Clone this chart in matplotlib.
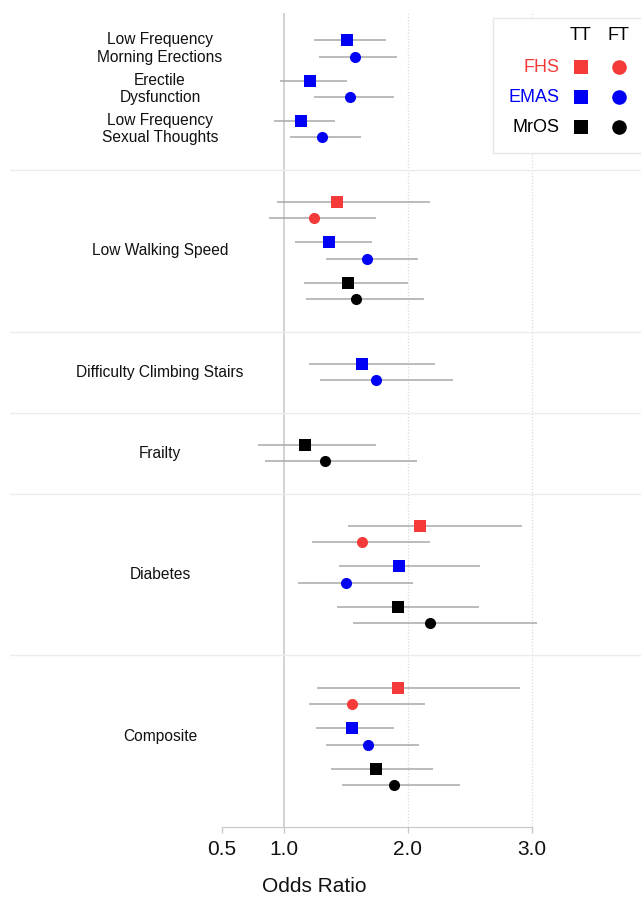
import numpy as np
import matplotlib
matplotlib.use('Agg')
import matplotlib.pyplot as plt
from matplotlib.patches import Rectangle

plt.rcParams['font.family'] = ['Liberation Sans', 'DejaVu Sans']

# ---- data -------------------------------------------------------------------
# one entry per pair of rows (TT row, then FT row)
pair_domain = ['Sexual', 'Sexual', 'Sexual',
               'Walking', 'Walking', 'Walking',
               'Stairs', 'Frailty',
               'Diabetes', 'Diabetes', 'Diabetes',
               'Composite', 'Composite', 'Composite']
pair_outcome = ['Low Frequency\nMorning Erections', 'Erectile\nDysfunction',
                'Low Frequency\nSexual Thoughts',
                'Low Walking Speed', 'Low Walking Speed', 'Low Walking Speed',
                'Difficulty Climbing Stairs', 'Frailty',
                'Diabetes', 'Diabetes', 'Diabetes',
                'Composite', 'Composite', 'Composite']
pair_cohort = ['EMAS', 'EMAS', 'EMAS',
               'FHS', 'EMAS', 'MrOS',
               'EMAS', 'MrOS',
               'FHS', 'EMAS', 'MrOS',
               'FHS', 'EMAS', 'MrOS']

# rows: TT, FT alternating
odds_ratio = [1.51, 1.57, 1.21, 1.53, 1.14, 1.31,
              1.43, 1.24, 1.36, 1.67, 1.52, 1.58,
              1.63, 1.74,
              1.17, 1.33,
              2.10, 1.63, 1.93, 1.50, 1.92, 2.18,
              1.92, 1.55, 1.55, 1.68, 1.74, 1.89]
ci_low = [1.24, 1.28, 0.97, 1.24, 0.92, 1.05,
          0.94, 0.88, 1.09, 1.34, 1.16, 1.18,
          1.20, 1.29,
          0.79, 0.85,
          1.52, 1.23, 1.44, 1.11, 1.43, 1.56,
          1.27, 1.20, 1.26, 1.34, 1.38, 1.47]
ci_high = [1.82, 1.91, 1.51, 1.89, 1.41, 1.62,
           2.18, 1.74, 1.71, 2.08, 2.00, 2.13,
           2.22, 2.36,
           1.74, 2.07,
           2.92, 2.18, 2.58, 2.04, 2.57, 3.04,
           2.90, 2.14, 1.89, 2.09, 2.20, 2.42]

cohorts = ['FHS', 'EMAS', 'MrOS']
cohort_colors = {'FHS': '#f53a3a', 'EMAS': '#0000f5', 'MrOS': '#000000'}
measures = ['TT', 'FT']
measure_marker = {'TT': 's', 'FT': 'o'}

x_ticks = [0.5, 1.0, 2.0, 3.0]
x_tick_labels = ['0.5', '1.0', '2.0', '3.0']

# ---- layout (vertical positions, top-down) -----------------------------------
stepIn = 16.3      # TT -> FT
stepPair = 24.05   # FT -> next TT
pad = 32.4         # row -> separator
rowY = []
separators = []
y = 40.3
for i, dom in enumerate(pair_domain):
    if i > 0:
        if dom != pair_domain[i - 1]:
            separators.append(y + pad)
            y = y + 2 * pad
        else:
            y = y + stepPair
    rowY.append(y)
    y = y + stepIn
    rowY.append(y)
rowY = np.array(rowY)

# ---- figure ---------------------------------------------------------------
fig = plt.figure(figsize=(6.41, 8.98), dpi=100)
ax = fig.add_axes([10 / 641, (898 - 827) / 898, 631 / 641, (827 - 13) / 898])
ax.set_xlim(-1.21, 3.88)
ax.set_ylim(827, 13)

# reference lines
ax.axvline(1.0, color='#d0d0d0', lw=1.3, zorder=1)
for xv in [2.0, 3.0]:
    ax.axvline(xv, color='#dadada', lw=0.9, ls=(0, (1, 1.5)), zorder=1)
for s in separators:
    ax.axhline(s, color='#ececec', lw=1.0, zorder=1)

# rows
for i in range(len(odds_ratio)):
    cohort = pair_cohort[i // 2]
    meas = measures[i % 2]
    ax.plot([ci_low[i], ci_high[i]], [rowY[i], rowY[i]], color='#a8a8a8',
            lw=1.1, zorder=2, solid_capstyle='butt')
    ax.plot(odds_ratio[i], rowY[i], marker=measure_marker[meas], ms=8,
            mew=0, color=cohort_colors[cohort], zorder=3)

# outcome labels
for name in dict.fromkeys(pair_outcome):
    idx = [k for k, o in enumerate(pair_outcome) if o == name]
    ys = np.concatenate([rowY[2 * k:2 * k + 2] for k in idx])
    ax.text(0.0, ys.mean(), name, ha='center', va='center', fontsize=11.2,
            linespacing=1.2, color='#111111')

# axis cosmetics
for side in ['top', 'right', 'left']:
    ax.spines[side].set_visible(False)
ax.spines['bottom'].set_bounds(0.5, 3.0)
ax.spines['bottom'].set_color('#c8c8c8')
ax.set_xticks(x_ticks)
ax.set_xticklabels(x_tick_labels)
ax.tick_params(axis='x', length=4.5, width=1, color='#c8c8c8', pad=5,
               labelsize=15, labelcolor='#111111')
ax.set_yticks([])

fig.text(314 / 641, 1 - 886 / 898, 'Odds Ratio', ha='center', va='center',
         fontsize=15, color='#111111')

# legend box
ax.add_patch(Rectangle((2.685, 18), 1.3, 135, facecolor='white',
                       edgecolor='#e6e6e6', lw=1.0, zorder=4))
xTT, xFT, xLab = 3.395, 3.70, 3.226
ax.text(xTT, 35, 'TT', ha='center', va='center', fontsize=13, zorder=5)
ax.text(xFT, 35, 'FT', ha='center', va='center', fontsize=13, zorder=5)
for j, c in enumerate(cohorts):
    ly = 67 + 30 * j
    ax.text(xLab, ly, c, ha='right', va='center', fontsize=13,
            color=cohort_colors[c], zorder=5)
    ax.plot(xTT, ly, marker='s', ms=10.5, mew=0, color=cohort_colors[c],
            zorder=5)
    ax.plot(xFT, ly, marker='o', ms=10.5, mew=0, color=cohort_colors[c],
            zorder=5)

fig.savefig('out.png', dpi=100)
